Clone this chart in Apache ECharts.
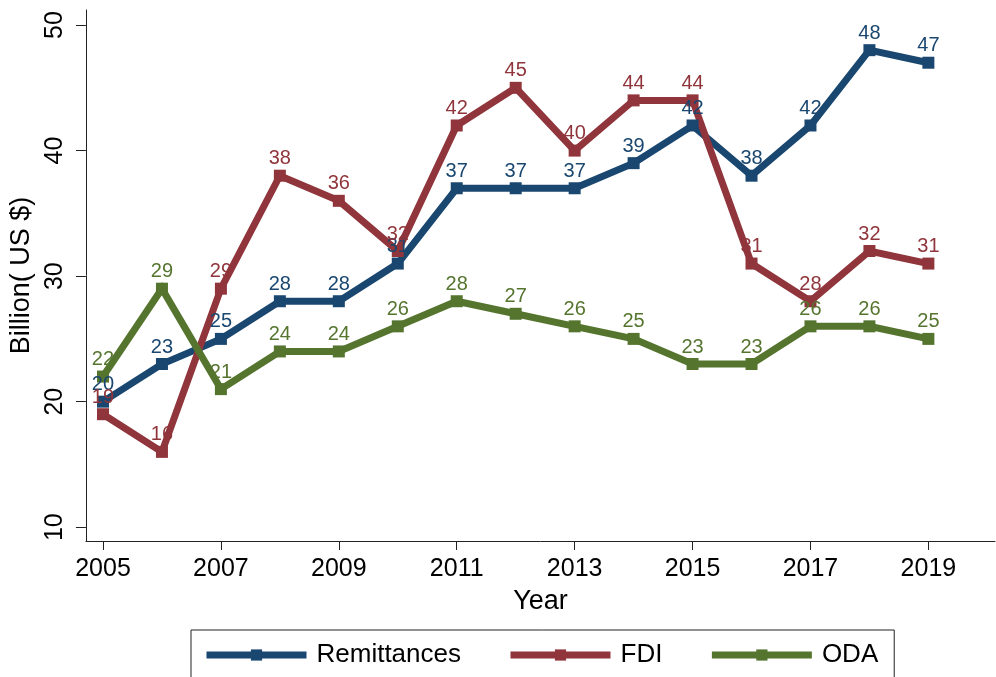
<!DOCTYPE html>
<html>
<head>
<meta charset="utf-8">
<script src="https://cdn.jsdelivr.net/npm/echarts@6/dist/echarts.min.js"></script>
<style>
  html, body { margin: 0; padding: 0; background: #fff; }
  #chart { width: 996px; height: 677px; }
</style>
</head>
<body>
<div id="chart"></div>
<script>
// Annual inflows, billions of US dollars
const years = [2005, 2006, 2007, 2008, 2009, 2010, 2011, 2012, 2013, 2014, 2015, 2016, 2017, 2018, 2019];
const remittances = [20, 23, 25, 28, 28, 31, 37, 37, 37, 39, 42, 38, 42, 48, 47];
const fdi = [19, 16, 29, 38, 36, 32, 42, 45, 40, 44, 44, 31, 28, 32, 31];
const oda = [22, 29, 21, 24, 24, 26, 28, 27, 26, 25, 23, 23, 26, 26, 25];
const xTicks = [2005, 2007, 2009, 2011, 2013, 2015, 2017, 2019];
const yTicks = [10, 20, 30, 40, 50];

const FONT = '"Liberation Sans", Arial, Helvetica, sans-serif';

function pairs(vals) {
  return years.map((y, i) => [y, vals[i]]);
}

function lineSeries(name, vals, color) {
  return {
    name: name,
    type: 'line',
    data: pairs(vals),
    symbol: 'rect',
    symbolSize: 12,
    lineStyle: { width: 7, color: color, join: 'miter' },
    itemStyle: { color: color },
    label: {
      show: true,
      position: 'top',
      distance: 1,
      color: color,
      fontSize: 20,
      fontFamily: FONT
    },
    emphasis: { disabled: true },
    animation: false
  };
}

const chart = echarts.init(document.getElementById('chart'), null, { renderer: 'canvas' });
chart.setOption({
  backgroundColor: '#fff',
  animation: false,
  grid: { left: 84, right: 1, top: 10, bottom: 136, containLabel: false },
  xAxis: {
    type: 'value',
    min: 2004.71,
    max: 2020.13,
    name: 'Year',
    nameLocation: 'middle',
    nameGap: 47,
    nameTextStyle: { fontSize: 27, color: '#000', fontFamily: FONT },
    axisLine: { show: true, lineStyle: { color: '#222', width: 1 } },
    axisTick: { show: true, length: 9, customValues: xTicks, lineStyle: { color: '#222' } },
    axisLabel: {
      customValues: xTicks,
      formatter: v => String(v),
      fontSize: 25,
      color: '#000',
      fontFamily: FONT,
      margin: 16
    },
    splitLine: { show: false }
  },
  yAxis: {
    type: 'value',
    min: 8.9,
    max: 51.2,
    name: 'Billion( US $)',
    nameLocation: 'middle',
    nameRotate: 90,
    nameGap: 43,
    nameTextStyle: { fontSize: 27, color: '#000', fontFamily: FONT },
    axisLine: { show: true, lineStyle: { color: '#222', width: 1 } },
    axisTick: { show: true, length: 10, customValues: yTicks, lineStyle: { color: '#222' } },
    axisLabel: {
      customValues: yTicks,
      rotate: 90,
      fontSize: 25,
      color: '#000',
      fontFamily: FONT,
      margin: 18
    },
    splitLine: { show: false }
  },
  legend: {
    left: 191,
    top: 630,
    orient: 'horizontal',
    itemWidth: 100,
    itemHeight: 14,
    itemGap: 46,
    padding: [12, 16, 20, 12],
    borderColor: '#222',
    borderWidth: 1,
    lineStyle: { width: 7 },
    textStyle: { fontSize: 26, color: '#000', fontFamily: FONT, padding: [0, 0, 0, 5] },
    data: ['Remittances', 'FDI', 'ODA']
  },
  series: [
    lineSeries('Remittances', remittances, '#1a476f'),
    lineSeries('FDI', fdi, '#90353b'),
    lineSeries('ODA', oda, '#55752f')
  ]
});
</script>
</body>
</html>
